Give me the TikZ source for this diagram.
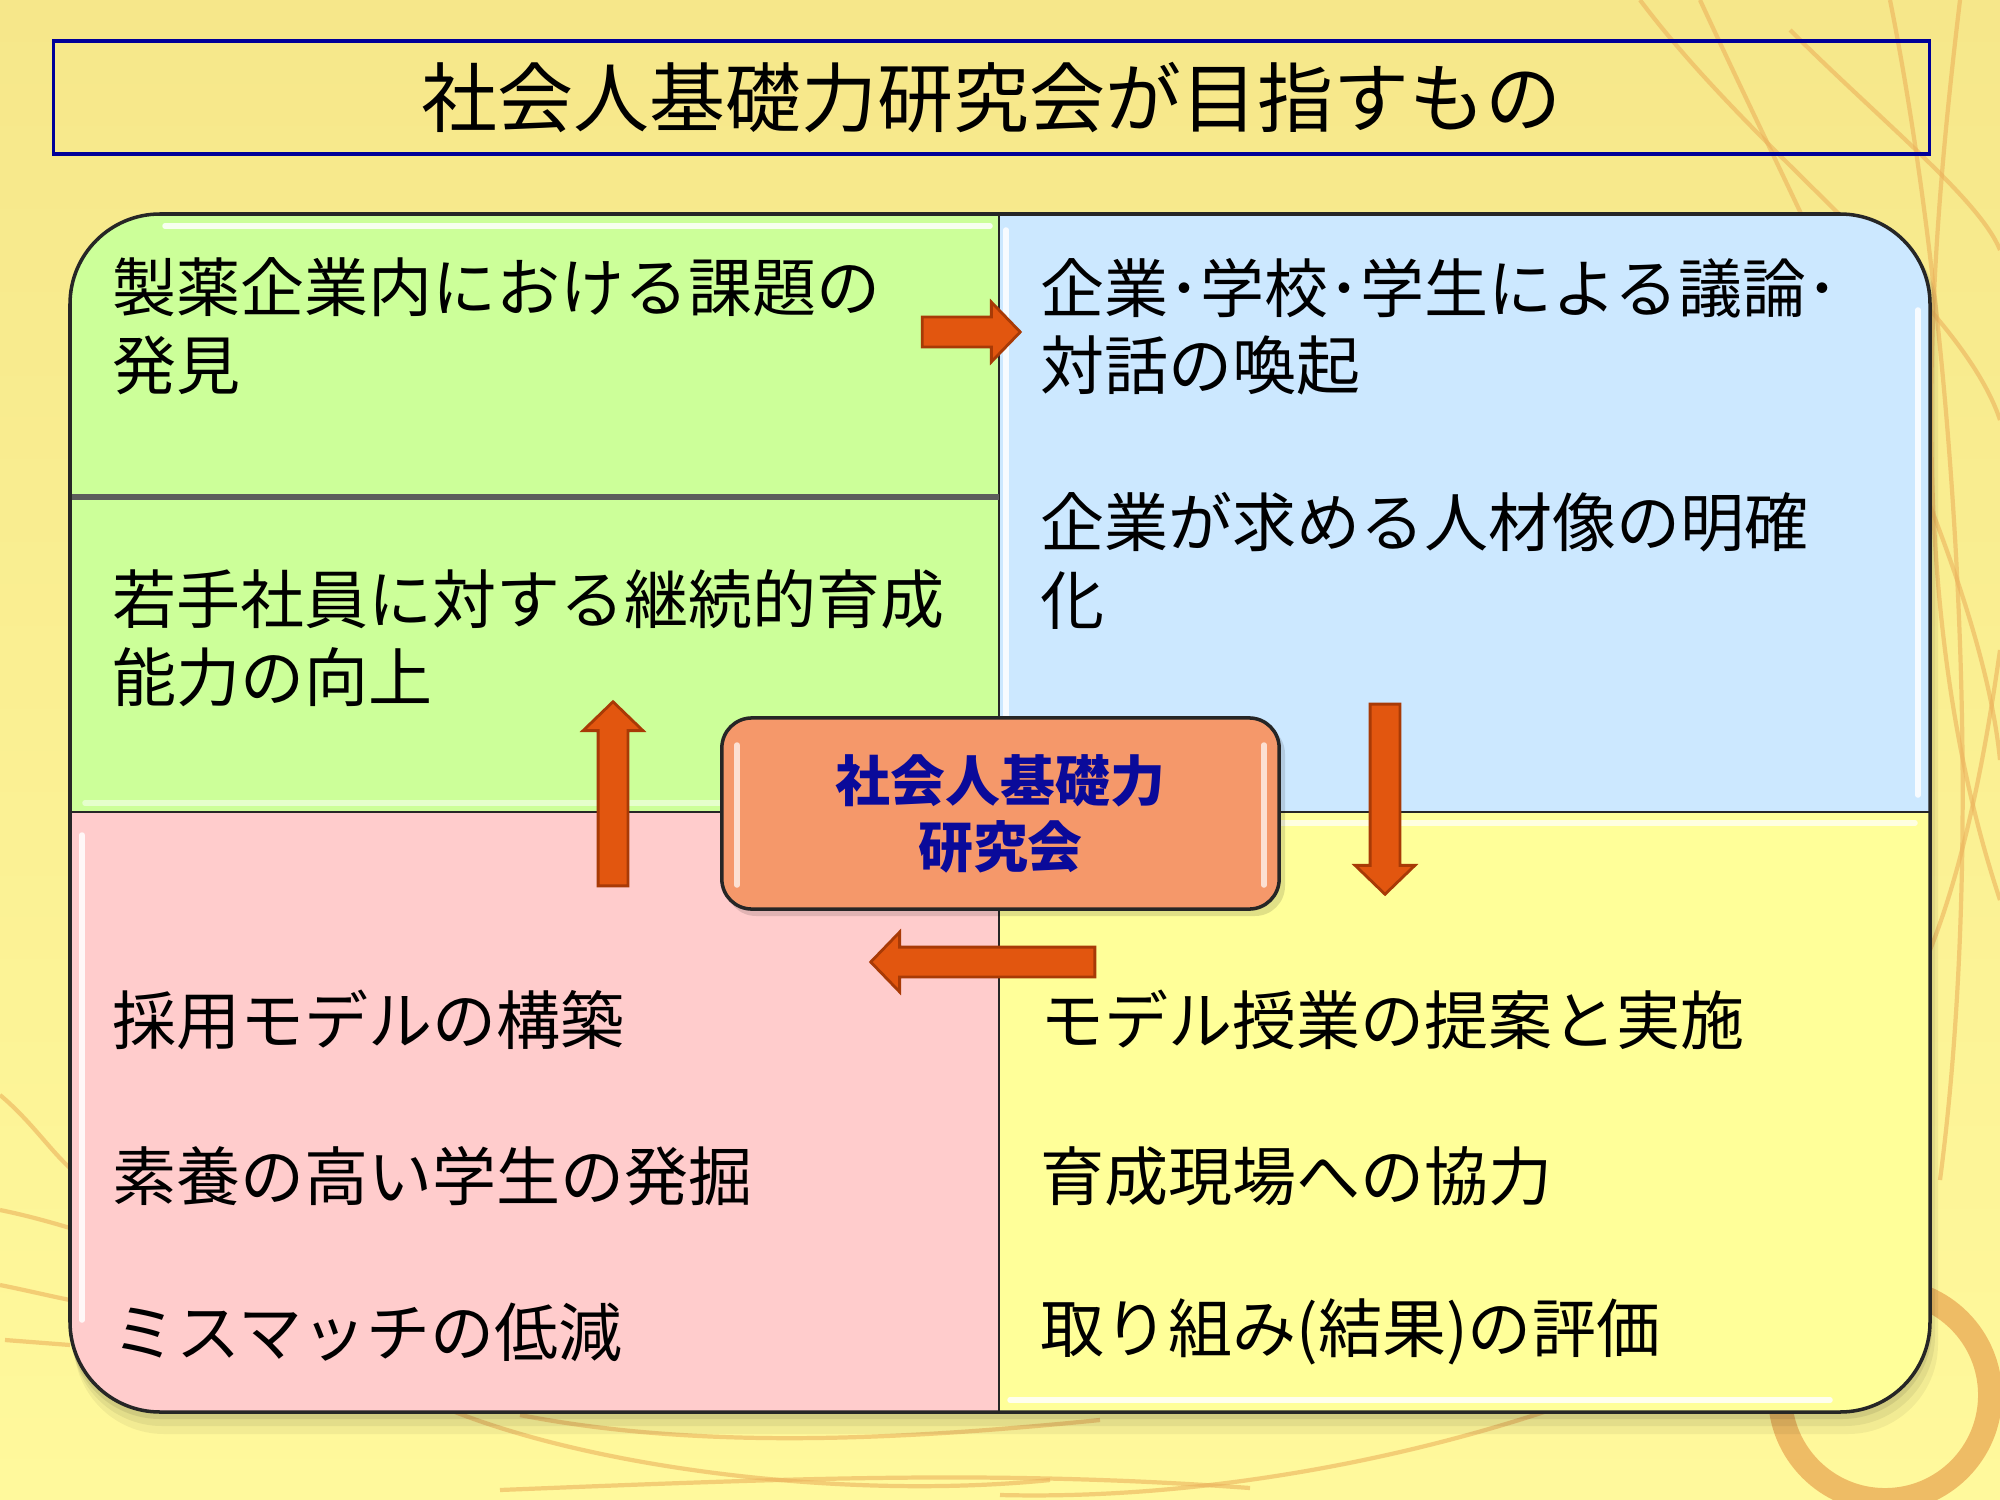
\documentclass[tikz,border=0pt]{standalone}
\usepackage{fontspec}
\setmainfont{Noto Sans CJK JP}
\usetikzlibrary{shapes.arrows}
\definecolor{bgtop}{HTML}{F6E78A}
\definecolor{bgbot}{HTML}{FFF99C}
\definecolor{qgreen}{HTML}{CCFF99}
\definecolor{qblue}{HTML}{CCE8FF}
\definecolor{qpink}{HTML}{FFCCCC}
\definecolor{qyellow}{HTML}{FFFF99}
\definecolor{coreorange}{HTML}{F5986A}
\definecolor{coreblue}{HTML}{0A0A9A}
\definecolor{arroworange}{HTML}{E2560F}
\definecolor{arrowedge}{HTML}{A83A06}
\definecolor{titlenavy}{HTML}{000099}
\definecolor{decoorange}{HTML}{ECB25C}
\definecolor{edgegray}{HTML}{262626}
\definecolor{splitgray}{HTML}{5C5C5C}
\begin{document}
\begin{tikzpicture}[x=0.01cm,y=-0.01cm,
  txt/.style={anchor=west,inner sep=0pt,font=\fontsize{18.2pt}{22pt}\selectfont,text=black},
  blockarrow/.style={single arrow,draw=arrowedge,fill=arroworange,line width=0.8pt,
    inner sep=0pt,text height=0.27cm,text depth=0pt,
    single arrow head extend=0.15cm,single arrow tip angle=92},
  deco/.style={draw=decoorange,line width=1.2pt,opacity=0.6},
  gloss/.style={draw=white,line width=0.055cm,line cap=round,opacity=0.85},
  quadedge/.style={draw=edgegray,line width=0.7pt}]
% background
\useasboundingbox (0,0) rectangle (2000,1500);
\shade[top color=bgtop,bottom color=bgbot] (0,0) rectangle (2000,1500);
% decorative strokes
\draw[deco] (1640,0) .. controls (1760,160) and (1960,300) .. (2000,420);
\draw[deco] (1700,0) .. controls (1820,260) and (1980,560) .. (2000,760);
\draw[deco] (1890,0) .. controls (1950,300) and (1990,800) .. (1940,1180);
\draw[deco] (1960,0) .. controls (1930,250) and (1900,600) .. (2000,900);
\draw[deco] (1790,30) .. controls (1880,120) and (1980,200) .. (2000,250);
\draw[deco] (1930,950) .. controls (1970,850) and (1990,720) .. (2000,650);
\draw[deco] (450,1410) .. controls (600,1470) and (850,1500) .. (1050,1480);
\draw[deco] (520,1415) .. controls (700,1450) and (900,1440) .. (1100,1420);
\draw[deco] (1550,1410) .. controls (1400,1460) and (1200,1500) .. (1000,1495);
\draw[deco] (500,1490) .. controls (800,1478) and (1000,1470) .. (1250,1488);
\draw[deco] (0,1095) .. controls (30,1120) and (50,1150) .. (70,1168);
\draw[deco] (0,1210) .. controls (25,1215) and (50,1222) .. (70,1228);
\draw[deco] (0,1285) .. controls (25,1290) and (50,1296) .. (70,1300);
\draw[deco] (5,1340) -- (70,1345);
\draw[draw=decoorange,line width=0.24cm,opacity=0.85] (1885,1395) circle[radius=1.05cm];
% title
\node[draw=titlenavy,line width=1pt,minimum width=18.75cm,minimum height=1.13cm,inner sep=0pt,
  font=\fontsize{21.6pt}{26pt}\selectfont] (title) at (991.5,97.5) {社会人基礎力研究会が目指すもの};
% shadow of main panel
\fill[black,opacity=0.05,rounded corners=0.9cm] (74,224) rectangle (1938,1434);
\fill[black,opacity=0.06,rounded corners=0.9cm] (72,220) rectangle (1935,1426);
\fill[black,opacity=0.08,rounded corners=0.9cm] (70,216) rectangle (1932,1419);
% quadrants
\begin{scope}
  \clip[rounded corners=0.9cm] (70,214) rectangle (1930,1412);
  \fill[qgreen] (70,214) rectangle (999,812);
  \fill[qblue] (999,214) rectangle (1930,812);
  \fill[qpink] (70,812) rectangle (999,1412);
  \fill[qyellow] (999,812) rectangle (1930,1412);
  \draw[gloss] (165,226) -- (990,226);
  \draw[gloss,opacity=0.5] (85,803) -- (990,803);
  \draw[gloss] (82,835) -- (82,1320);
  \draw[gloss] (1006,230) -- (1006,800);
  \draw[gloss] (1918,310) -- (1918,795);
  \draw[gloss,opacity=0.7] (1010,823) -- (1915,823);
  \draw[gloss] (1010,1400) -- (1830,1400);
\end{scope}
\draw[quadedge] (999,214) -- (999,1412);
\draw[quadedge] (70,812) -- (1930,812);
\draw[draw=splitgray,line width=1.7pt] (70,497) -- (999,497);
\draw[edgegray,line width=1pt,rounded corners=0.9cm] (70,214) rectangle (1930,1412);
% texts
\node[txt] (g1a) at (112,287) {製薬企業内における課題の};
\node[txt] (g1b) at (112,365) {発見};
\node[txt] (g2a) at (112,599) {若手社員に対する継続的育成};
\node[txt] (g2b) at (112,677) {能力の向上};
\node[txt] (b1a) at (1040,288) {企業･学校･学生による議論･};
\node[txt] (b1b) at (1040,365) {対話の喚起};
\node[txt] (b2a) at (1040,522) {企業が求める人材像の明確};
\node[txt] (b2b) at (1040,601) {化};
\node[txt] (p1) at (112,1020) {採用モデルの構築};
\node[txt] (p2) at (112,1176) {素養の高い学生の発掘};
\node[txt] (p3) at (112,1332) {ミスマッチの低減};
\node[txt] (y1) at (1040,1020) {モデル授業の提案と実施};
\node[txt] (y2) at (1040,1176) {育成現場への協力};
\node[txt] (y3) at (1040,1332) {取り組み(結果)の評価};
% centre box
\fill[black,opacity=0.12,rounded corners=0.3cm] (726,724) rectangle (1285,916);
\node[draw=edgegray,line width=1pt,fill=coreorange,rounded corners=0.3cm,
  minimum width=5.57cm,minimum height=1.91cm,inner sep=0pt,align=center,
  font=\fontsize{15.6pt}{18.8pt}\selectfont\bfseries,text=coreblue] (core) at (1000.5,813.5)
  {社会人基礎力\\研究会};
\draw[gloss,opacity=0.7] (737,745) -- (737,885);
\draw[gloss,opacity=0.7] (1264,745) -- (1264,885);
% block arrows
\node[blockarrow,minimum height=0.98cm] (arR) at (964,332) {};
\node[blockarrow,minimum height=1.90cm,rotate=-90] (arD) at (1385,792) {};
\node[blockarrow,minimum height=2.24cm,rotate=180] (arL) at (990,962) {};
\node[blockarrow,minimum height=1.84cm,rotate=90] (arU) at (613,801) {};
\end{tikzpicture}
\end{document}
